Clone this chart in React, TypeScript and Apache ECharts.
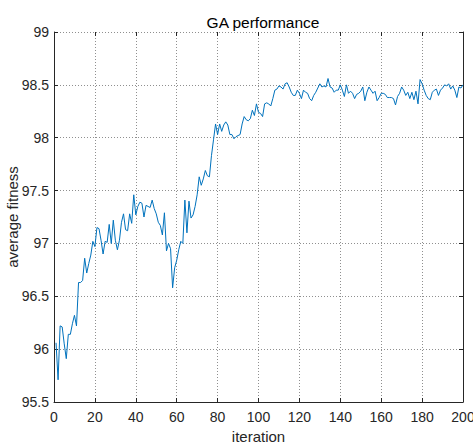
import React, { useEffect, useRef } from "react";
import * as echarts from "echarts";

const xTicks = [0, 20, 40, 60, 80, 100, 120, 140, 160, 180, 200];
const yTicks = [95.5, 96, 96.5, 97, 97.5, 98, 98.5, 99];

// average fitness for iterations 1..200
const fitness = [
  96.06, 95.71, 96.22, 96.21, 96.05, 95.91, 96.14, 96.14, 96.24, 96.32,
  96.22, 96.63, 96.63, 96.65, 96.86, 96.72, 96.81, 96.89, 97.02, 96.97,
  97.15, 97.14, 97.03, 96.9, 97.02, 97.01, 97.18, 97.0, 97.22, 97.03,
  96.94, 97.03, 97.2, 97.28, 97.13, 97.12, 97.28, 97.19, 97.46, 97.27,
  97.35, 97.39, 97.38, 97.25, 97.36, 97.35, 97.34, 97.41, 97.33, 97.28,
  97.2, 97.17, 97.08, 97.29, 96.93, 97.0, 96.95, 96.58, 96.77, 96.84,
  96.94, 97.02, 97.0, 97.41, 97.1, 97.4, 97.24, 97.27, 97.35, 97.46,
  97.63, 97.55, 97.61, 97.69, 97.64, 97.63, 97.83, 97.98, 98.13, 98.03,
  98.13, 98.06, 98.12, 98.15, 98.12, 98.03, 98.03, 97.99, 98.01, 98.02,
  98.03, 98.13, 98.2, 98.17, 98.16, 98.18, 98.26, 98.21, 98.32, 98.24,
  98.23, 98.2, 98.32, 98.33, 98.32, 98.3, 98.37, 98.45, 98.46, 98.49,
  98.48, 98.46, 98.51, 98.52, 98.48, 98.43, 98.4, 98.4, 98.45, 98.42,
  98.37, 98.45, 98.43, 98.42, 98.37, 98.35, 98.4, 98.43, 98.47, 98.51,
  98.48, 98.49, 98.48, 98.56, 98.48, 98.47, 98.43, 98.45, 98.45, 98.5,
  98.45, 98.39, 98.5, 98.42, 98.44, 98.42, 98.37, 98.41, 98.42, 98.44,
  98.48, 98.35, 98.43, 98.48, 98.45, 98.42, 98.44, 98.35, 98.38, 98.42,
  98.42, 98.41, 98.38, 98.38, 98.38, 98.37, 98.31, 98.39, 98.42, 98.48,
  98.45, 98.4, 98.43, 98.37, 98.43, 98.36, 98.44, 98.32, 98.55, 98.51,
  98.45, 98.4, 98.37, 98.36, 98.43, 98.45, 98.46, 98.4, 98.45, 98.47,
  98.5, 98.49, 98.51, 98.46, 98.49, 98.45, 98.38, 98.48, 98.47, 98.5,
];

const FONT = "'Liberation Sans', Arial, Helvetica, sans-serif";
const AX = "#262626";

export default function App() {
  const ref = useRef<HTMLDivElement>(null);
  useEffect(() => {
    document.body.style.margin = "0";
    const chart = echarts.init(ref.current!, null, { renderer: "svg" });
    const split = { show: true, lineStyle: { color: "#8f8f8f", width: 1, type: [1, 2] as any } };
    chart.setOption({
      animation: false,
      backgroundColor: "#ffffff",
      title: {
        text: "GA performance",
        left: 258,
        top: 9,
        textAlign: "center",
        textStyle: { fontFamily: FONT, fontSize: 15.5, fontWeight: "normal", color: "#000" },
      },
      grid: { left: 54, top: 32, right: 10, bottom: 46, containLabel: false, outerBoundsMode: "none" },
      xAxis: [
        {
          type: "value",
          min: 0,
          max: 200,
          interval: 20,
          position: "bottom",
          name: "iteration",
          nameLocation: "middle",
          nameGap: 27,
          nameMoveOverlap: false,
          nameTextStyle: { fontFamily: FONT, fontSize: 15, color: AX },
          axisLine: { show: true, onZero: false, lineStyle: { color: AX, width: 1 } },
          axisTick: { show: true, inside: true, length: 4, lineStyle: { color: AX } },
          axisLabel: { fontFamily: FONT, fontSize: 14, color: AX, margin: 8 },
          splitLine: split,
        },
        {
          type: "value",
          min: 0,
          max: 200,
          interval: 20,
          position: "top",
          axisLine: { show: false },
          axisTick: { show: true, inside: true, length: 4, lineStyle: { color: AX } },
          axisLabel: { show: false },
          splitLine: { show: false },
        },
      ],
      yAxis: [
        {
          type: "value",
          min: 95.5,
          max: 99,
          interval: 0.5,
          position: "left",
          name: "average fitness",
          nameLocation: "middle",
          nameGap: 34,
          nameMoveOverlap: false,
          nameTextStyle: { fontFamily: FONT, fontSize: 15, color: AX },
          axisLine: { show: true, onZero: false, lineStyle: { color: AX, width: 1 } },
          axisTick: { show: true, inside: true, length: 4, lineStyle: { color: AX } },
          axisLabel: { fontFamily: FONT, fontSize: 14, color: AX, margin: 5 },
          splitLine: split,
        },
        {
          type: "value",
          min: 95.5,
          max: 99,
          interval: 0.5,
          position: "right",
          axisLine: { show: true, onZero: false, lineStyle: { color: AX, width: 1 } },
          axisTick: { show: true, inside: true, length: 4, lineStyle: { color: AX } },
          axisLabel: { show: false },
          splitLine: { show: false },
        },
      ],
      series: [
        {
          type: "line",
          xAxisIndex: 0,
          yAxisIndex: 0,
          data: fitness.map((v, i) => [i + 1, v]),
          showSymbol: false,
          symbol: "none",
          lineStyle: { color: "#0072BD", width: 1 },
        },
      ],
    });
    return () => chart.dispose();
  }, []);
  return <div ref={ref} style={{ width: 473, height: 448 }} />;
}
